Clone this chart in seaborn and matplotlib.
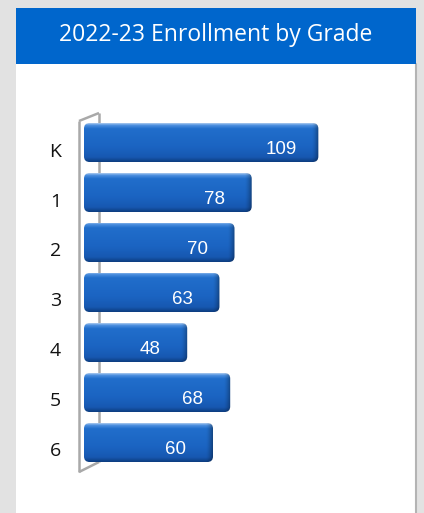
import numpy as np
import pandas as pd
import seaborn as sns
import matplotlib.pyplot as plt
from matplotlib.patches import Rectangle, FancyBboxPatch
from matplotlib.lines import Line2D
from matplotlib.colors import to_rgb

grades = ["K", "1", "2", "3", "4", "5", "6"]
enrollment = [109, 78, 70, 63, 48, 68, 60]
title = "2022-23 Enrollment by Grade"

W, H = 424, 513


def fx(x):
    return x / W


def fy(y):
    return 1 - y / H


sns.set_style("white")
fig = plt.figure(figsize=(W / 100, H / 100), dpi=100, facecolor="#e2e2e2")

# white panel + blue header
fig.add_artist(Rectangle((fx(16), 0), fx(400), fy(64), transform=fig.transFigure,
                         facecolor="white", edgecolor="none", zorder=-3))
fig.add_artist(Line2D([fx(416), fx(416)], [fy(64), 0], transform=fig.transFigure,
                      color="#b4b4b4", lw=1.5, zorder=-2))
fig.add_artist(Rectangle((fx(16), fy(64)), fx(400), fy(8) - fy(64), transform=fig.transFigure,
                         facecolor="#0066cc", edgecolor="none", zorder=-2))
fig.text(fx(216), fy(35), title, ha="center", va="center", color="white",
         fontsize=16.5, family="Open Sans")

# 3d-ish wall lines
wall = dict(transform=fig.transFigure, color="#a9a9a9", lw=1.8, solid_capstyle="butt")
fig.add_artist(Line2D([fx(99), fx(99)], [fy(113), fy(462)], zorder=-1, **wall))
fig.add_artist(Line2D([fx(79), fx(79)], [fy(121), fy(472)], zorder=-1, **wall))
fig.add_artist(Line2D([fx(79), fx(99)], [fy(121), fy(113)], zorder=-1, **wall))
fig.add_artist(Line2D([fx(79), fx(99)], [fy(472), fy(462)], zorder=-1, **wall))

px_per_unit = 2.15
ax = fig.add_axes([fx(84), fy(467.5), fx(150 * px_per_unit), (467.5 - 117.5) / H])
ax.set_facecolor("none")

df = pd.DataFrame({"grade": grades, "count": enrollment})
sns.barplot(data=df, x="count", y="grade", orient="h", width=0.78, color="#1a64c4", ax=ax)
ax.set_xlim(0, 150)
ax.set_ylim(6.5, -0.5)

# vertical gradient for the bars
stops = [(0.0, "#a8c8ee"), (0.05, "#4d90df"), (0.14, "#216ecb"), (0.6, "#1b64c2"),
         (0.88, "#1758b1"), (1.0, "#0d3d80")]
rows = 80
t = np.linspace(0, 1, rows)
grad = np.zeros((rows, 3))
for c in range(3):
    grad[:, c] = np.interp(t, [s[0] for s in stops], [to_rgb(s[1])[c] for s in stops])

for p in list(ax.patches):
    x0, y0, w, h = p.get_x(), p.get_y(), p.get_width(), p.get_height()
    p.set_visible(False)
    cols = 300
    img = np.repeat(grad[:, None, :], cols, axis=1)
    side = 7 / px_per_unit
    xs = np.linspace(x0, x0 + w, cols)
    # soft bevel at the right end
    k = np.clip((xs - (x0 + w - side)) / side, 0, 1)
    shade = 1.0 - 0.35 * k ** 1.5
    img = img * shade[None, :, None]
    clip = FancyBboxPatch((x0, y0), w, h, boxstyle="round,pad=0,rounding_size=2.6",
                          mutation_aspect=(1 / 50) / (1 / px_per_unit),
                          facecolor="none", edgecolor="none", transform=ax.transData)
    ax.add_patch(clip)
    im = ax.imshow(img, extent=(x0, x0 + w, y0 + h, y0), aspect="auto", zorder=2,
                   interpolation="bilinear")
    im.set_clip_path(clip)

ax.set_xlim(0, 150)
ax.set_ylim(6.5, -0.5)

for i, v in enumerate(enrollment):
    ax.annotate(str(v), xy=(v, i + 0.14), xytext=(-27, 0), textcoords="offset points",
                ha="center", va="center", color="white", fontsize=13.5,
                family="Liberation Sans", zorder=5)

ax.set_yticks(np.arange(len(grades)) + 0.14, labels=grades)
ax.set_xticks([])
ax.tick_params(axis="y", length=0, pad=16.5, labelsize=14, labelcolor="#111111")
for lab in ax.get_yticklabels():
    lab.set_family("Open Sans")
ax.set_xlabel("")
ax.set_ylabel("")
for s in ax.spines.values():
    s.set_visible(False)

fig.savefig("out.png", dpi=100, facecolor=fig.get_facecolor())
